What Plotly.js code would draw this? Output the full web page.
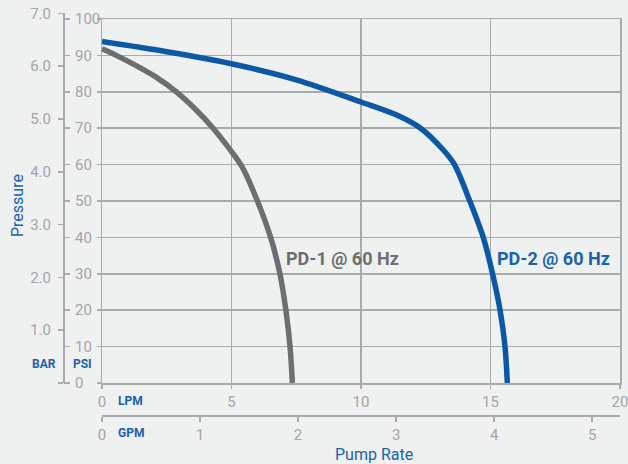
<!DOCTYPE html>
<html>
<head>
<meta charset="utf-8">
<script src="https://cdn.plot.ly/plotly-3.0.1.min.js"></script>
<style>
  html, body { margin: 0; padding: 0; background: #eff0f0; }
  #chart { width: 628px; height: 464px; }
</style>
</head>
<body>
<div id="chart"></div>
<script>
// ---- Data ----
const pd1Lpm = [0, 0.55, 1.39, 2.16, 2.87, 3.58, 4.29, 4.9, 5.4, 6.0, 6.51, 6.87, 7.10, 7.26, 7.35];
const pd1Psi = [91.8, 90, 86.9, 83.7, 80, 75.4, 70, 64.5, 59.5, 50, 40, 30, 20, 10, 0];

const pd2Lpm = [0, 2.5, 5.0, 7.5, 10.0, 11.38, 12.3, 13.18, 13.61, 14.2, 14.72, 15.08, 15.37, 15.56, 15.65];
const pd2Psi = [93.8, 91.0, 87.7, 83.3, 77.2, 73.6, 70, 64.0, 60, 50, 40, 30, 20, 10, 0];

const seriesNames = ["PD-1 @ 60 Hz", "PD-2 @ 60 Hz"];

const lpmTicks = [0, 5, 10, 15, 20];
const gpmTicks = [0, 1, 2, 3, 4, 5];
const psiTicks = [0, 10, 20, 30, 40, 50, 60, 70, 80, 90, 100];
const barTicks = [0, 1, 2, 3, 4, 5, 6, 7];
const barTickText = ["", "1.0", "2.0", "3.0", "4.0", "5.0", "6.0", "7.0"];

const LPM_PER_GPM = 3.78541;
const PSI_PER_BAR = 14.5038;
const lpmMax = 20, psiMax = 100, barMax = 7;

// ---- Style ----
const FONT = "Roboto, 'Liberation Sans', sans-serif";
const BG = "#eff0f0";
const GRID = "#a8aaac";
const TICKTXT = "#a3a5a7";
const BLUE = "#0a58a6";
const BLUE_TXT = "#1a62ad";
const GRAY = "#6d6e71";

// pixel helpers for paper placement
const W = 628, H = 464, ML = 0, MR = 8, MT = 10, MB = 20;
const PW = W - ML - MR, PH = H - MT - MB;
const px = x => (x - ML) / PW;
const py = y => (H - MB - y) / PH;

const traces = [
  { x: pd1Lpm, y: pd1Psi, xaxis: "x", yaxis: "y", mode: "lines", name: seriesNames[0],
    line: { color: GRAY, width: 5.5, shape: "spline", smoothing: 0.9, simplify: false }, hoverinfo: "skip" },
  { x: pd2Lpm, y: pd2Psi, xaxis: "x", yaxis: "y", mode: "lines", name: seriesNames[1],
    line: { color: BLUE, width: 5.5, shape: "spline", smoothing: 0.9, simplify: false }, hoverinfo: "skip" },
  // helpers so the secondary axes get drawn
  { x: [null], y: [null], xaxis: "x2", yaxis: "y", mode: "lines", showlegend: false, hoverinfo: "skip" },
  { x: [null], y: [null], xaxis: "x", yaxis: "y2", mode: "lines", showlegend: false, hoverinfo: "skip" },
  { x: [null], y: [null], xaxis: "x3", yaxis: "y3", mode: "lines", showlegend: false, hoverinfo: "skip" }
];

const tickFont = { family: FONT, size: 15, color: TICKTXT };

const layout = {
  width: W, height: H,
  margin: { l: ML, r: MR, t: MT, b: MB, pad: 0 },
  paper_bgcolor: BG, plot_bgcolor: "rgba(0,0,0,0)",
  showlegend: false,
  font: { family: FONT },
  xaxis: {
    domain: [px(102), 1], range: [0, lpmMax], anchor: "y",
    tickvals: lpmTicks, ticks: "outside", ticklen: 4, tickwidth: 1.5, tickcolor: GRID,
    showgrid: true, gridcolor: GRID, gridwidth: 1.5, zeroline: false,
    showline: true, linecolor: GRID, linewidth: 1.5, mirror: true,
    tickfont: tickFont, ticklabelstandoff: 0, ticklabeloverflow: "allow", fixedrange: true
  },
  xaxis2: {
    overlaying: "x", anchor: "free", position: py(415), side: "bottom",
    range: [0, lpmMax / LPM_PER_GPM],
    tickvals: gpmTicks, ticks: "outside", ticklen: 5, tickwidth: 1.5, tickcolor: GRID,
    showgrid: false, zeroline: false,
    showline: true, linecolor: GRID, linewidth: 1.5,
    tickfont: tickFont, ticklabelstandoff: 0, ticklabeloverflow: "allow", fixedrange: true
  },
  xaxis3: {
    domain: [px(102), 1], range: [0, lpmMax], anchor: "y3", visible: false,
    showgrid: false, zeroline: false, fixedrange: true
  },
  yaxis: {
    domain: [py(383), py(19)], range: [0, psiMax], anchor: "x",
    tickvals: psiTicks, ticks: "outside", ticklen: 4, tickwidth: 1.5, tickcolor: GRID,
    showticklabels: false,
    showgrid: true, gridcolor: GRID, gridwidth: 1.5, zeroline: false,
    showline: true, linecolor: GRID, linewidth: 1.5, mirror: true, fixedrange: true
  },
  yaxis2: {
    overlaying: "y", anchor: "free", position: px(63), side: "right",
    range: [0, psiMax],
    tickvals: psiTicks, ticks: "outside", ticklen: 6, tickwidth: 1.5, tickcolor: GRID,
    showgrid: false, zeroline: false, showline: false,
    tickfont: tickFont, ticklabelstandoff: 2, fixedrange: true
  },
  yaxis3: {
    domain: [py(383), py(383 - (383 - 19) * barMax * PSI_PER_BAR / psiMax)],
    anchor: "free", position: px(63), side: "left",
    range: [0, barMax],
    tickvals: barTicks, ticktext: barTickText, ticks: "outside", ticklen: 5, tickwidth: 1.5, tickcolor: GRID,
    showgrid: false, zeroline: false,
    showline: true, linecolor: GRID, linewidth: 1.5,
    tickfont: tickFont, ticklabelstandoff: 4, fixedrange: true
  },
  annotations: [
    { text: "PD-1 @ 60 Hz", xref: "x", yref: "y", x: 9.27, y: 34.3, showarrow: false,
      xanchor: "center", yanchor: "middle", font: { family: FONT, size: 18, color: GRAY, weight: "bold" } },
    { text: "PD-2 @ 60 Hz", xref: "x", yref: "y", x: 17.45, y: 34.3, showarrow: false,
      xanchor: "center", yanchor: "middle", font: { family: FONT, size: 18, color: BLUE_TXT, weight: "bold" } },
    { text: "LPM", xref: "paper", yref: "paper", x: px(130.5), y: py(401), showarrow: false,
      xanchor: "center", yanchor: "middle", font: { family: FONT, size: 12, color: BLUE_TXT, weight: "bold" } },
    { text: "GPM", xref: "paper", yref: "paper", x: px(130.5), y: py(433), showarrow: false,
      xanchor: "center", yanchor: "middle", font: { family: FONT, size: 12, color: BLUE_TXT, weight: "bold" } },
    { text: "BAR", xref: "paper", yref: "paper", x: px(43.5), y: py(364), showarrow: false,
      xanchor: "center", yanchor: "middle", font: { family: FONT, size: 12, color: BLUE_TXT, weight: "bold" } },
    { text: "PSI", xref: "paper", yref: "paper", x: px(82.5), y: py(364), showarrow: false,
      xanchor: "center", yanchor: "middle", font: { family: FONT, size: 12, color: BLUE_TXT, weight: "bold" } },
    { text: "Pressure", xref: "paper", yref: "paper", x: px(17), y: py(206), showarrow: false,
      textangle: -90, xanchor: "center", yanchor: "middle", font: { family: FONT, size: 16, color: BLUE_TXT } },
    { text: "Pump Rate", xref: "paper", yref: "paper", x: px(374), y: py(454), showarrow: false,
      xanchor: "center", yanchor: "middle", font: { family: FONT, size: 16, color: BLUE_TXT } }
  ]
};

Plotly.newPlot("chart", traces, layout, { staticPlot: true, displayModeBar: false });
</script>
</body>
</html>
